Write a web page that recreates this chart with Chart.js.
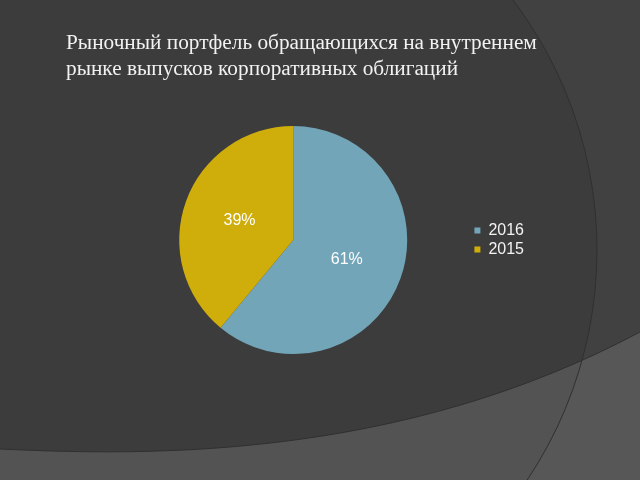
<!DOCTYPE html>
<html>
<head>
<meta charset="utf-8">
<script src="https://cdn.jsdelivr.net/npm/chart.js@4/dist/chart.umd.min.js"></script>
<style>
  html, body { margin: 0; padding: 0; background: #3c3c3c; }
  #wrap { position: relative; width: 640px; height: 480px; overflow: hidden; }
  #pieChart { position: absolute; left: 0; top: 0; }
  #title {
    position: absolute; left: 66px; top: 29px;
    font-family: "Liberation Serif", "Times New Roman", serif;
    font-size: 21.3px; line-height: 26px; color: #f2f2f2;
    white-space: nowrap;
  }
</style>
</head>
<body>
<div id="wrap">
  <canvas id="pieChart" width="640" height="480"></canvas>
  <div id="title">Рыночный портфель обращающихся на внутреннем<br>рынке выпусков корпоративных облигаций</div>
</div>
<script>
const labels = ['2016', '2015'];
const values = [61, 39];
const colors = ['#72a5b8', '#cfad0b'];

// background arcs of the slide theme
const slideBackground = {
    id: 'slideBackground',
    beforeDraw(chart) {
        const ctx = chart.ctx;
        ctx.save();
        ctx.fillStyle = '#3c3c3c';
        ctx.fillRect(0, 0, 640, 480);
        // right side, outside the big arc
        ctx.beginPath();
        ctx.arc(183, 250, 414, 0, Math.PI * 2);
        ctx.rect(640, 0, -640, 480);
        ctx.fillStyle = '#414141';
        ctx.fill('evenodd');
        // bottom band
        ctx.beginPath();
        ctx.moveTo(0, 449);
        ctx.bezierCurveTo(150, 456, 400, 460, 640, 332);
        ctx.lineTo(640, 480);
        ctx.lineTo(0, 480);
        ctx.closePath();
        ctx.fillStyle = '#535353';
        ctx.fill();
        ctx.clip();
        ctx.beginPath();
        ctx.arc(183, 250, 414, 0, Math.PI * 2);
        ctx.rect(640, 0, -640, 480);
        ctx.fillStyle = '#575757';
        ctx.fill('evenodd');
        ctx.restore();
        ctx.save();
        ctx.strokeStyle = '#303030';
        ctx.lineWidth = 1;
        ctx.beginPath();
        ctx.arc(183, 250, 414, -Math.PI / 2, Math.PI / 2);
        ctx.stroke();
        ctx.beginPath();
        ctx.moveTo(0, 449);
        ctx.bezierCurveTo(150, 456, 400, 460, 640, 332);
        ctx.stroke();
        ctx.restore();
    }
};

// percent labels in the middle of each slice
const sliceLabels = {
    id: 'sliceLabels',
    afterDatasetsDraw(chart) {
        const ctx = chart.ctx;
        const meta = chart.getDatasetMeta(0);
        ctx.save();
        ctx.fillStyle = '#ffffff';
        ctx.font = '16px "Liberation Sans", Arial, sans-serif';
        ctx.textAlign = 'center';
        ctx.textBaseline = 'middle';
        meta.data.forEach((arc, i) => {
            const p = arc.getCenterPoint();
            ctx.fillText(values[i] + '%', p.x, p.y);
        });
        ctx.restore();
    }
};

const ctx = document.getElementById('pieChart').getContext('2d');
const pieChart = new Chart(ctx, {
    type: 'pie',
    data: {
        labels: labels,
        datasets: [{
            data: values,
            backgroundColor: colors,
            borderWidth: 0
        }]
    },
    options: {
        responsive: false,
        animation: false,
        layout: {
            padding: { top: 126, bottom: 126, left: 115, right: 106 }
        },
        plugins: {
            tooltip: { enabled: false },
            legend: {
                position: 'right',
                labels: {
                    boxWidth: 6,
                    boxHeight: 6,
                    padding: 3,
                    color: '#f2f2f2',
                    font: { family: '"Liberation Sans", Arial, sans-serif', size: 16 }
                }
            }
        }
    },
    plugins: [slideBackground, sliceLabels]
});
</script>
</body>
</html>
